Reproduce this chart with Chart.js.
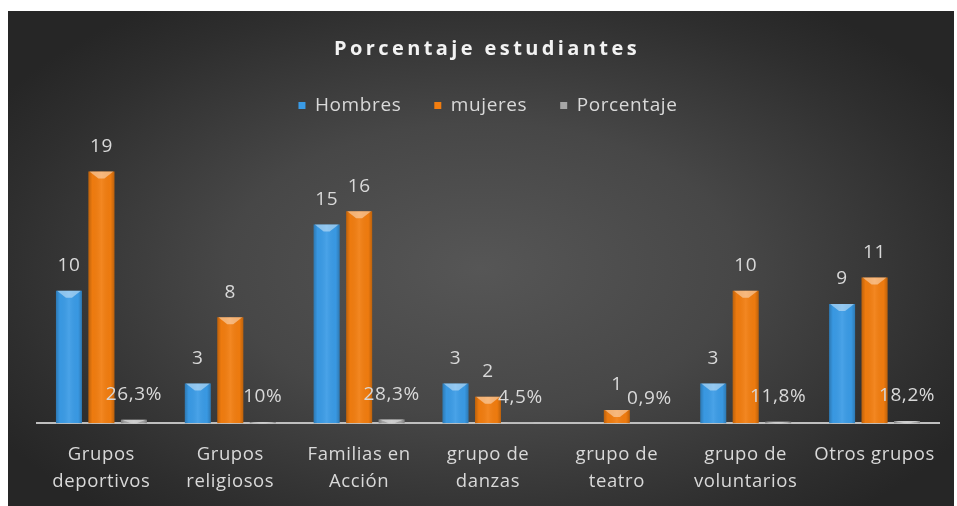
<!DOCTYPE html>
<html>
<head>
<meta charset="utf-8">
<script src="https://cdn.jsdelivr.net/npm/chart.js@4.4.1/dist/chart.umd.min.js"></script>
<style>
  html, body { margin: 0; padding: 0; background: #fff; }
  #wrap {
    position: absolute; left: 8px; top: 11px; width: 946px; height: 495px;
    background: radial-gradient(ellipse 60% 65% at 50% 52%, #565656 0%, #474747 45%, #2e2e2e 85%, #262626 100%);
  }
</style>
</head>
<body>
<div id="wrap"><canvas id="myChart"></canvas></div>
<script>
// Data
const categories = [
    ["Grupos", "deportivos"],
    ["Grupos", "religiosos"],
    ["Familias en", "Acción"],
    ["grupo de", "danzas"],
    ["grupo de", "teatro"],
    ["grupo de", "voluntarios"],
    "Otros grupos"
];
const hombres = [10, 3, 15, 3, null, 3, 9];
const mujeres = [19, 8, 16, 2, 1, 10, 11];
const porcentaje = [0.263, 0.10, 0.283, 0.045, 0.009, 0.118, 0.182];

const FONT = "'Open Sans'";
const TEXT = "#d9d9d9";
const SPACING = "0.6px";

// Helper: 0.263 -> "26,3%"
function pct(v) {
    let s = (Math.round(v * 1000) / 10).toString();
    return s.replace(".", ",") + "%";
}

// Slightly wider text everywhere (the original looks stretched)
const spacingPlugin = {
    id: "spacing",
    beforeLayout(chart) { chart.ctx.letterSpacing = SPACING; },
    beforeDraw(chart) { chart.ctx.letterSpacing = SPACING; }
};

// Title with letter spacing
const titlePlugin = {
    id: "spacedTitle",
    afterDraw(chart) {
        const ctx = chart.ctx;
        ctx.save();
        ctx.font = "bold 20px " + FONT;
        ctx.fillStyle = "#f2f2f2";
        ctx.textAlign = "center";
        ctx.textBaseline = "middle";
        ctx.letterSpacing = "3.4px";
        ctx.fillText("Porcentaje estudiantes", chart.width / 2 + 6, 38);
        ctx.restore();
    }
};

// Bevel look on bars
const bevelPlugin = {
    id: "bevel",
    afterDatasetsDraw(chart) {
        const ctx = chart.ctx;
        chart.data.datasets.forEach((ds, di) => {
            const meta = chart.getDatasetMeta(di);
            meta.data.forEach((bar, i) => {
                if (ds.data[i] == null) return;
                const left = bar.x - bar.width / 2;
                const right = bar.x + bar.width / 2;
                const top = Math.min(bar.y, bar.base);
                const h = Math.abs(bar.base - bar.y);
                if (h < 1) return;
                ctx.save();
                const g = ctx.createLinearGradient(left, 0, right, 0);
                g.addColorStop(0, "rgba(0,0,0,0.22)");
                g.addColorStop(0.15, "rgba(0,0,0,0.02)");
                g.addColorStop(0.5, "rgba(255,255,255,0.08)");
                g.addColorStop(0.85, "rgba(0,0,0,0.02)");
                g.addColorStop(1, "rgba(0,0,0,0.22)");
                ctx.fillStyle = g;
                ctx.fillRect(left, top, bar.width, h);
                const d = Math.min(7, h);
                ctx.beginPath();
                ctx.moveTo(left + 1, top);
                ctx.lineTo(right - 1, top);
                ctx.lineTo(bar.x + 3, top + d);
                ctx.lineTo(bar.x - 3, top + d);
                ctx.closePath();
                ctx.fillStyle = "rgba(255,255,255,0.42)";
                ctx.fill();
                ctx.restore();
            });
        });
    }
};

// Data labels
const labelPlugin = {
    id: "valueLabels",
    afterDatasetsDraw(chart) {
        const ctx = chart.ctx;
        ctx.save();
        ctx.font = "19px " + FONT;
        ctx.fillStyle = TEXT;
        ctx.textAlign = "center";
        ctx.textBaseline = "middle";
        chart.data.datasets.forEach((ds, di) => {
            const meta = chart.getDatasetMeta(di);
            meta.data.forEach((bar, i) => {
                const v = ds.data[i];
                if (v == null) return;
                const txt = di === 2 ? pct(v) : String(v);
                ctx.fillText(txt, bar.x, bar.y - 25);
            });
        });
        ctx.restore();
    }
};

const ctx = document.getElementById("myChart").getContext("2d");
new Chart(ctx, {
    type: "bar",
    data: {
        labels: categories,
        datasets: [
            { label: "Hombres", data: hombres, backgroundColor: "#3a9be6" },
            { label: "mujeres", data: mujeres, backgroundColor: "#f27d0f" },
            { label: "Porcentaje", data: porcentaje, backgroundColor: "#a6a6a6" }
        ]
    },
    options: {
        responsive: true,
        maintainAspectRatio: false,
        animation: false,
        categoryPercentage: 0.756,
        barPercentage: 0.8,
        layout: { padding: { top: 52, left: 29, right: 15, bottom: 1 } },
        plugins: {
            title: { display: false },
            tooltip: { enabled: false },
            legend: {
                position: "top",
                labels: {
                    color: TEXT,
                    font: { family: FONT, size: 19 },
                    boxWidth: 7,
                    boxHeight: 7,
                    padding: 33
                }
            }
        },
        scales: {
            x: {
                grid: { display: false },
                border: { display: true, color: "#bfbfbf", width: 2 },
                ticks: {
                    color: TEXT,
                    font: { family: FONT, size: 18.5, lineHeight: 1.45 },
                    maxRotation: 0,
                    autoSkip: false,
                    padding: 10
                }
            },
            y: {
                display: false,
                min: 0,
                max: 22.5
            }
        }
    },
    plugins: [spacingPlugin, titlePlugin, bevelPlugin, labelPlugin]
});
</script>
</body>
</html>
